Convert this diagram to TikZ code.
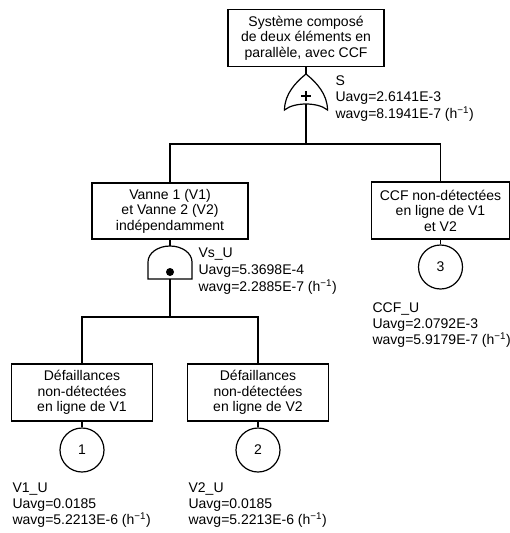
\documentclass[tikz,border=0pt]{standalone}
\usepackage{fontspec}
\setmainfont{Liberation Sans}

\begin{document}
\begin{tikzpicture}[x=1pt, y=-1pt, line width=1.2pt,
    every node/.style={font=\fontsize{14}{15.5}\selectfont},
    eventbox/.style={draw, align=center, inner sep=0pt, minimum height=57pt},
    basicevent/.style={draw, circle, minimum size=44pt, inner sep=0pt},
    infotext/.style={align=left, anchor=north west, inner sep=0pt,
        font=\fontsize{14}{16}\selectfont}]

    % Picture frame (pixel units, y downwards)
    \useasboundingbox (0,0) rectangle (510,533);

    % Events
    \node[eventbox, minimum width=156pt] (sys) at (306,38)
        {Système composé\\de deux éléments en\\parallèle, avec CCF};
    \node[eventbox, minimum width=156pt, minimum height=56pt] (vanne) at (170,211)
        {Vanne 1 (V1)\\et Vanne 2 (V2)\\indépendamment};
    \node[eventbox, minimum width=138pt] (ccf) at (440.5,210.5)
        {CCF non-détectées\\en ligne de V1\\et V2};
    \node[eventbox, minimum width=141pt] (def1) at (82,392.5)
        {Défaillances\\non-détectées\\en ligne de V1};
    \node[eventbox, minimum width=141pt] (def2) at (258,392.5)
        {Défaillances\\non-détectées\\en ligne de V2};

    % Basic events
    \node[basicevent] (ev1) at (82,450) {1};
    \node[basicevent] (ev2) at (258,450) {2};
    \node[basicevent] (ev3) at (440.5,267) {3};

    % OR gate under the top event
    \coordinate (orS-in) at (306,74);
    \coordinate (orS-out) at (306,104);
    \begin{scope}[shift={(306,74)}]
        \draw (-21.5,36) .. controls (-21.5,20) and (-10,8) .. (0,0)
            .. controls (10,8) and (21.5,20) .. (21.5,36)
            .. controls (12,28) and (-12,28) .. cycle;
        \draw (-5,22) -- (5,22) (0,17) -- (0,27);
    \end{scope}

    % AND gate under V1 and V2
    \coordinate (andV-in) at (170,246);
    \coordinate (andV-out) at (170,279);
    \begin{scope}[shift={(170,246)}]
        \draw (-22,33) -- (-22,16) .. controls (-22,7) and (-12,0) .. (0,0)
            .. controls (12,0) and (22,7) .. (22,16) -- (22,33) -- cycle;
        \fill (0,26) circle (4);
    \end{scope}

    % Gate data
    \node[infotext, font=\fontsize{14}{16.5}\selectfont] (lblS) at (335,75)
        {S\\Uavg=2.6141E-3\\wavg=8.1941E-7 (h\textsuperscript{−1})};
    \node[infotext, font=\fontsize{14}{17}\selectfont] (lblVs) at (198,247)
        {Vs\_U\\Uavg=5.3698E-4\\wavg=2.2885E-7 (h\textsuperscript{−1})};
    \node[infotext] (lblCCF) at (372,302)
        {CCF\_U\\Uavg=2.0792E-3\\wavg=5.9179E-7 (h\textsuperscript{−1})};
    \node[infotext] (lblV1) at (12,482)
        {V1\_U\\Uavg=0.0185\\wavg=5.2213E-6 (h\textsuperscript{−1})};
    \node[infotext] (lblV2) at (188,482)
        {V2\_U\\Uavg=0.0185\\wavg=5.2213E-6 (h\textsuperscript{−1})};

    % Connections
    \coordinate (busS) at (306,144);
    \coordinate (busV) at (170,317);
    \draw (sys.south) -- (orS-in);
    \draw (orS-out) -- (busS);
    \draw (vanne.north) |- (busS) -| (ccf.north);
    \draw (vanne.south) -- (andV-in);
    \draw (andV-out) -- (busV);
    \draw (def1.north) |- (busV) -| (def2.north);
    \draw (def1.south) -- (ev1.north);
    \draw (def2.south) -- (ev2.north);
    \draw (ccf.south) -- (ev3.north);
\end{tikzpicture}
\end{document}
